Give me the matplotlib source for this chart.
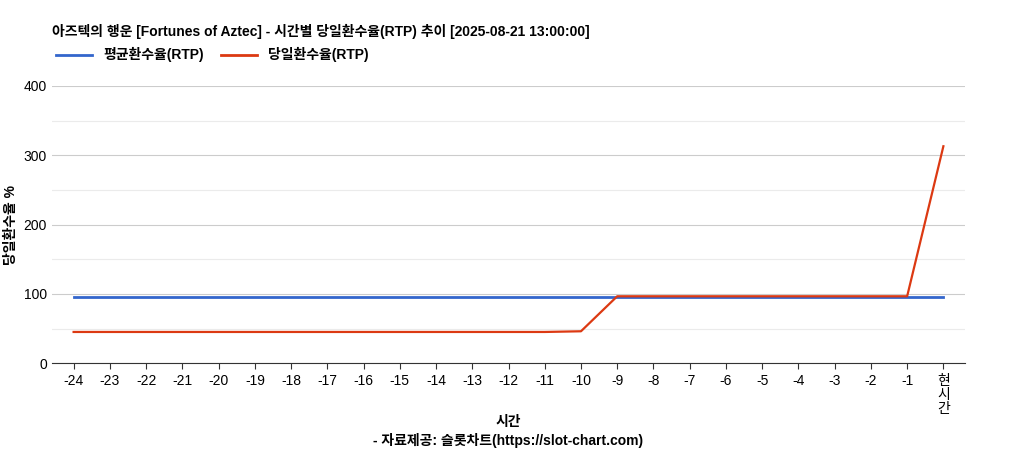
import matplotlib.pyplot as plt
from matplotlib.lines import Line2D

plt.rcParams['font.family'] = ['Liberation Sans', 'Noto Sans CJK KR', 'DejaVu Sans']

hours = list(range(-24, 0)) + ['now']
tick_labels = [str(h) for h in range(-24, 0)] + ['현\n시\n간']
avg_rtp = [96] * 25
day_rtp = [45] * 14 + [46] + [96.5] * 9 + [313]

fig = plt.figure(figsize=(10.17, 4.5), dpi=100)
ax = fig.add_axes([0.051, 0.193, 0.898, 0.616])
x = list(range(len(hours)))
ax.plot(x, avg_rtp, color='#3366cc', linewidth=2)
ax.plot(x, day_rtp, color='#dc3912', linewidth=1.6)

ax.set_xlim(-0.6, 24.6)
ax.set_ylim(0, 400)
ax.set_yticks([0, 100, 200, 300, 400])
ax.set_yticks([50, 150, 250, 350], minor=True)
ax.tick_params(axis='y', which='both', length=0, labelsize=10)
ax.grid(axis='y', which='major', color='#cccccc', linewidth=0.8)
ax.grid(axis='y', which='minor', color='#ebebeb', linewidth=0.8)
ax.set_xticks(x)
ax.set_xticklabels(tick_labels, fontsize=10, linespacing=1.0)
ax.tick_params(axis='x', length=4, color='#333333')
for s in ['top', 'right', 'left']:
    ax.spines[s].set_visible(False)
ax.spines['bottom'].set_color('#333333')
ax.set_axisbelow(True)

ax.set_ylabel('당일환수율 %', fontsize=10, fontweight='bold')
fig.text(0.5, 1 - 422 / 450, '시간', fontsize=10, fontweight='bold', ha='center', va='center')
fig.text(0.5, 1 - 440 / 450, '- 자료제공: 슬롯차트(https://slot-chart.com)', fontsize=10,
         fontweight='bold', ha='center', va='center')

fig.text(0.051, 0.93, '아즈텍의 행운 [Fortunes of Aztec] - 시간별 당일환수율(RTP) 추이 [2025-08-21 13:00:00]',
         fontsize=10, fontweight='bold', va='center')
handles = [Line2D([], [], color='#3366cc', linewidth=2),
           Line2D([], [], color='#dc3912', linewidth=2)]
fig.legend(handles, ['평균환수율(RTP)', '당일환수율(RTP)'], loc='center left',
           bbox_to_anchor=(0.043, 0.878), ncol=2, frameon=False,
           prop={'size': 10, 'weight': 'bold'}, handlelength=2.6, columnspacing=1.2)

fig.savefig('out.png', dpi=100)
